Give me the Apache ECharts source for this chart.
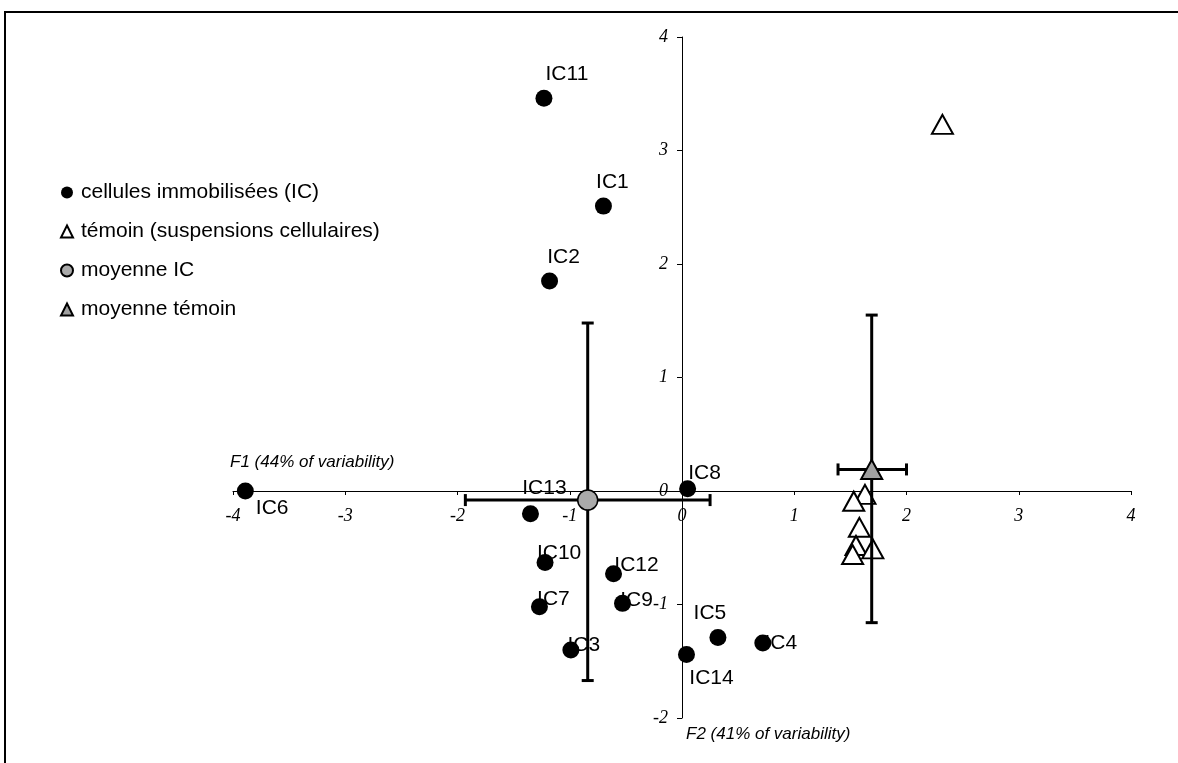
<!DOCTYPE html>
<html>
<head>
<meta charset="utf-8">
<script src="https://cdn.jsdelivr.net/npm/echarts@6/dist/echarts.min.js"></script>
<style>
html,body{margin:0;padding:0;background:#fff;}
#chart{width:1178px;height:763px;}
</style>
</head>
<body>
<div id="chart"></div>
<script>
// ---- data ----
const icNames = ['IC1','IC2','IC3','IC4','IC5','IC6','IC7','IC8','IC9','IC10','IC11','IC12','IC13','IC14'];
const icX = [-0.70, -1.18, -0.99, 0.72, 0.32, -3.89, -1.27, 0.05, -0.53, -1.22, -1.23, -0.61, -1.35, 0.04];
const icY = [2.51, 1.85, -1.40, -1.34, -1.29, 0.00, -1.02, 0.02, -0.99, -0.63, 3.46, -0.73, -0.20, -1.44];

const temoinX = [2.32, 1.63, 1.53, 1.58, 1.55, 1.52, 1.70];
const temoinY = [3.23, -0.03, -0.09, -0.32, -0.48, -0.56, -0.51];

const meanICX = [-0.84];
const meanICY = [-0.08];
const meanICXErr = [-1.93, 0.25];
const meanICYErr = [-1.67, 1.48];

const meanTemoinX = [1.69];
const meanTemoinY = [0.19];
const meanTemoinXErr = [1.39, 2.00];
const meanTemoinYErr = [-1.16, 1.55];

const xTicks = [-4, -3, -2, -1, 0, 1, 2, 3, 4];
const yTicks = [-2, -1, 0, 1, 2, 3, 4];

const seriesNames = ['cellules immobilisées (IC)', 'témoin (suspensions cellulaires)', 'moyenne IC', 'moyenne témoin'];
const axisNameX = 'F1 (44% of variability)';
const axisNameY = 'F2 (41% of variability)';

// ---- layout / style ----
const GRID = {left: 233, right: 47, top: 37, bottom: 45};
const W = 1178, H = 763;
const xSpan = W - GRID.left - GRID.right;
const ySpan = H - GRID.top - GRID.bottom;
// offsets that move each axis from the grid edge onto the zero line
const xAxisOffset = -ySpan * (0 - yTicks[0]) / (yTicks[yTicks.length - 1] - yTicks[0]);
const yAxisOffset = -xSpan * (0 - xTicks[0]) / (xTicks[xTicks.length - 1] - xTicks[0]);

const labelPlacement = {
  IC1: {position: 'top', offset: [9, 0]},
  IC2: {position: 'top', offset: [14, 0]},
  IC3: {position: 'inside', offset: [13, -5]},
  IC4: {position: 'inside', offset: [18, 0]},
  IC5: {position: 'top', offset: [-8, 0]},
  IC6: {position: 'right', offset: [-3, 17]},
  IC7: {position: 'inside', offset: [14, -8]},
  IC8: {position: 'top', offset: [17, 8]},
  IC9: {position: 'inside', offset: [14, -3]},
  IC10: {position: 'inside', offset: [14, -9]},
  IC11: {position: 'top', offset: [23, 0]},
  IC12: {position: 'inside', offset: [23, -9]},
  IC13: {position: 'top', offset: [14, -1]},
  IC14: {position: 'bottom', offset: [25, 0]}
};

const chart = echarts.init(document.getElementById('chart'));

const icData = icNames.map((n, i) => ({
  name: n,
  value: [icX[i], icY[i]],
  label: labelPlacement[n]
}));
const temoinData = temoinX.map((x, i) => [x, temoinY[i]]);

const errData = [
  [meanICX[0], meanICY[0], meanICXErr[0], meanICXErr[1], meanICYErr[0], meanICYErr[1]],
  [meanTemoinX[0], meanTemoinY[0], meanTemoinXErr[0], meanTemoinXErr[1], meanTemoinYErr[0], meanTemoinYErr[1]]
];

const CAP = 6;
function renderErr(params, api) {
  const cx = api.value(0), cy = api.value(1);
  const pL = api.coord([api.value(2), cy]);
  const pR = api.coord([api.value(3), cy]);
  const pB = api.coord([cx, api.value(4)]);
  const pT = api.coord([cx, api.value(5)]);
  const st = {stroke: '#000', lineWidth: 3};
  return {
    type: 'group',
    children: [
      {type: 'line', shape: {x1: pL[0], y1: pL[1], x2: pR[0], y2: pR[1]}, style: st},
      {type: 'line', shape: {x1: pL[0], y1: pL[1] - CAP, x2: pL[0], y2: pL[1] + CAP}, style: st},
      {type: 'line', shape: {x1: pR[0], y1: pR[1] - CAP, x2: pR[0], y2: pR[1] + CAP}, style: st},
      {type: 'line', shape: {x1: pB[0], y1: pB[1], x2: pT[0], y2: pT[1]}, style: st},
      {type: 'line', shape: {x1: pB[0] - CAP, y1: pB[1], x2: pB[0] + CAP, y2: pB[1]}, style: st},
      {type: 'line', shape: {x1: pT[0] - CAP, y1: pT[1], x2: pT[0] + CAP, y2: pT[1]}, style: st}
    ]
  };
}

const tickLabelStyle = {
  fontFamily: 'Liberation Serif',
  fontStyle: 'italic',
  fontSize: 18,
  color: '#000'
};

const option = {
  backgroundColor: '#fff',
  animation: false,
  grid: Object.assign({containLabel: false}, GRID),
  xAxis: {
    type: 'value', min: xTicks[0], max: xTicks[xTicks.length - 1], interval: 1,
    position: 'bottom', offset: xAxisOffset,
    splitLine: {show: false},
    axisLine: {onZero: false, lineStyle: {color: '#000', width: 1}},
    axisTick: {show: true, length: 4, lineStyle: {color: '#000'}},
    axisLabel: Object.assign({margin: 16}, tickLabelStyle)
  },
  yAxis: {
    type: 'value', min: yTicks[0], max: yTicks[yTicks.length - 1], interval: 1,
    position: 'left', offset: yAxisOffset,
    splitLine: {show: false},
    axisLine: {onZero: false, lineStyle: {color: '#000', width: 1}},
    axisTick: {show: true, length: 5, lineStyle: {color: '#000'}},
    axisLabel: Object.assign({margin: 14}, tickLabelStyle)
  },
  legend: {
    orient: 'vertical', left: 55, top: 177,
    itemGap: 18, itemWidth: 12, itemHeight: 12,
    textStyle: {fontFamily: 'Liberation Sans', fontSize: 21, color: '#000', padding: [0, 0, 0, 3]},
    data: seriesNames
  },
  graphic: [
    {type: 'line', shape: {x1: 4, y1: 12, x2: 1178, y2: 12}, style: {stroke: '#000', lineWidth: 2}},
    {type: 'line', shape: {x1: 5, y1: 12, x2: 5, y2: 763}, style: {stroke: '#000', lineWidth: 2}},
    {type: 'text', left: 230, top: 454, style: {text: axisNameX, fontFamily: 'Liberation Sans', fontStyle: 'italic', fontSize: 17, fill: '#000'}},
    {type: 'text', left: 686, top: 726, style: {text: axisNameY, fontFamily: 'Liberation Sans', fontStyle: 'italic', fontSize: 17, fill: '#000'}}
  ],
  series: [
    {
      name: seriesNames[0], type: 'scatter', symbol: 'circle', symbolSize: 17, z: 2,
      itemStyle: {color: '#000', opacity: 1},
      label: {show: true, formatter: '{b}', fontFamily: 'Liberation Sans', fontSize: 21, color: '#000'},
      data: icData
    },
    {
      name: seriesNames[1], type: 'scatter', symbol: 'triangle', symbolSize: [21, 19], z: 2,
      itemStyle: {color: '#fff', borderColor: '#000', borderWidth: 2, opacity: 1},
      data: temoinData
    },
    {
      name: 'err', type: 'custom', renderItem: renderErr, z: 3,
      encode: {x: [0, 2, 3], y: [1, 4, 5]},
      data: errData
    },
    {
      name: seriesNames[2], type: 'scatter', symbol: 'circle', symbolSize: 20, z: 4,
      itemStyle: {color: '#aaaaaa', borderColor: '#000', borderWidth: 1.5, opacity: 1},
      data: meanICX.map((x, i) => [x, meanICY[i]])
    },
    {
      name: seriesNames[3], type: 'scatter', symbol: 'triangle', symbolSize: [21, 19], z: 4,
      itemStyle: {color: '#a0a0a0', borderColor: '#000', borderWidth: 2, opacity: 1},
      data: meanTemoinX.map((x, i) => [x, meanTemoinY[i]])
    }
  ]
};
chart.setOption(option);
</script>
</body>
</html>
